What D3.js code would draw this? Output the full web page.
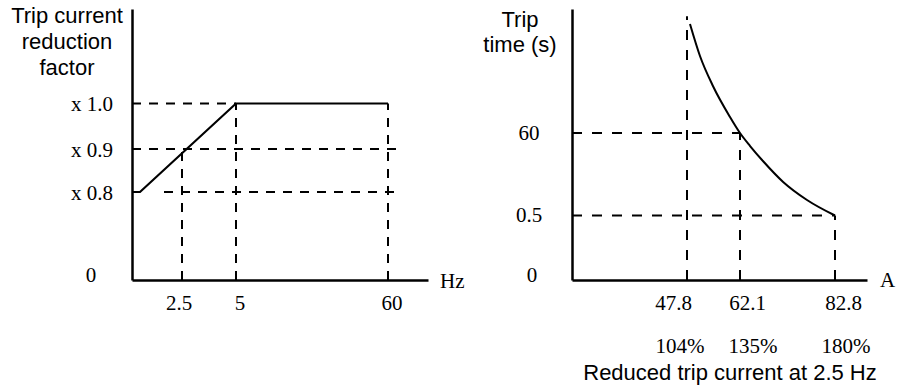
<!DOCTYPE html>
<html>
<head>
<meta charset="utf-8">
<script src="https://cdn.jsdelivr.net/npm/d3@7"></script>
<style>
  html, body { margin: 0; padding: 0; background: #fff; }
  svg { display: block; }
  .serif { font-family: "Liberation Serif", "Times New Roman", serif; font-size: 21px; fill: #000; }
  .sans { font-family: "Liberation Sans", Arial, Helvetica, sans-serif; font-size: 22px; fill: #000; }
</style>
</head>
<body>
<svg id="chart" width="906" height="388"></svg>
<script>
// ---------- Data: left chart (trip current reduction factor vs frequency) ----------
const freqTicks = [2.5, 5, 60];
const freqTickLabels = ["2.5", "5", "60"];
const factorLevels = [1.0, 0.9, 0.8];
const factorLabels = ["x 1.0", "x 0.9", "x 0.8"];
const factorCurveFreq = [0, 0.4, 5, 60];
const factorCurveValue = [0.8, 0.8, 1.0, 1.0];
const leftTitle = ["Trip current", "reduction", "factor"];
const leftUnit = "Hz";

// ---------- Data: right chart (trip time vs current) ----------
const currentTicks = [47.8, 62.1, 82.8];
const currentLabels = ["47.8", "62.1", "82.8"];
const percentLabels = ["104%", "135%", "180%"];
const timeLevels = [60, 0.5];
const timeLabels = ["60", "0.5"];
const tripCurveCurrent = [48.6, 51.3, 54.8, 59.4, 62.1, 64.3, 67.1, 71.5, 76.7, 82.8];
const tripCurveTime = [165.5, 134.5, 105.5, 75.5, 60, 50.6, 39.8, 24.7, 11.7, 0.5];
const rightTitle = ["Trip", "time (s)"];
const rightUnit = "A";
const rightCaption = "Reduced trip current at 2.5 Hz";

// Guide (dashed) line extents, in data units
const leftGuidesH = [ {v: 1.0, from: 0, to: 5}, {v: 0.9, from: 0, to: 62}, {v: 0.8, from: 1.6, to: 63} ];
const leftGuidesV = [ {v: 2.5, from: 0, to: 0.9}, {v: 5, from: 0, to: 1.0}, {v: 60, from: 0, to: 1.0} ];
const rightGuidesH = [ {v: 60, from: 40, to: 62.1}, {v: 0.5, from: 40, to: 82.8} ];
const rightGuidesV = [ {v: 47.8, from: 0, to: 173}, {v: 62.1, from: 0, to: 60}, {v: 82.8, from: 0, to: 0.5} ];

// ---------- Layout ----------
const svg = d3.select("#chart");

// Piecewise (schematic) scales
const xL = d3.scaleLinear().domain([0, 2.5, 5, 60, 70]).range([132, 182, 236, 388, 428]);
const yL = d3.scaleLinear().domain([0, 0.8, 0.9, 1.0, 1.4]).range([280, 192, 149, 103.5, 9]);
const xR = d3.scaleLinear().domain([40, 47.8, 62.1, 82.8, 90]).range([572, 687, 740, 835, 867]);
const yR = d3.scaleLinear().domain([0, 0.5, 60, 180]).range([280, 215.5, 133, 9]);

function drawAxes(x, y) {
  const gx = svg.append("g").attr("transform", `translate(0,${y(0)})`)
    .call(d3.axisBottom(x).tickValues([]).tickSizeOuter(0));
  const gy = svg.append("g").attr("transform", `translate(${x(x.domain()[0])},0)`)
    .call(d3.axisLeft(y).tickValues([]).tickSizeOuter(0));
  [gx, gy].forEach(g => g.select(".domain").attr("stroke", "#000").attr("stroke-width", 2.5));
}

function drawGuides(x, y, hs, vs, dash) {
  const g = svg.append("g").attr("fill", "none").attr("stroke", "#000")
    .attr("stroke-width", 2).attr("stroke-dasharray", dash);
  g.selectAll("line.h").data(hs).enter().append("line").attr("class", "h")
    .attr("x1", d => x(d.from)).attr("x2", d => x(d.to))
    .attr("y1", d => y(d.v)).attr("y2", d => y(d.v));
  g.selectAll("line.v").data(vs).enter().append("line").attr("class", "v")
    .attr("x1", d => x(d.v)).attr("x2", d => x(d.v))
    .attr("y1", d => y(d.from)).attr("y2", d => y(d.to));
}

// ---------- Left chart ----------
drawGuides(xL, yL, leftGuidesH, leftGuidesV, "9,8");

const leftLine = d3.line().x(d => xL(d[0])).y(d => yL(d[1]));
svg.append("path")
  .datum(factorCurveFreq.map((f, i) => [f, factorCurveValue[i]]))
  .attr("d", leftLine).attr("fill", "none").attr("stroke", "#000")
  .attr("stroke-width", 2.2).attr("stroke-linejoin", "miter");

drawAxes(xL, yL);

svg.append("g").selectAll("text").data(factorLevels).enter().append("text")
  .attr("class", "serif").attr("text-anchor", "end")
  .attr("x", 113).attr("y", d => yL(d) + 7.5)
  .text((d, i) => factorLabels[i]);
svg.append("text").attr("class", "serif").attr("text-anchor", "middle")
  .attr("x", 91).attr("y", yL(0) + 2).text("0");

const freqDx = [-3, 4, 4];
svg.append("g").selectAll("text").data(freqTicks).enter().append("text")
  .attr("class", "serif").attr("text-anchor", "middle")
  .attr("x", (d, i) => xL(d) + freqDx[i]).attr("y", 310)
  .text((d, i) => freqTickLabels[i]);
svg.append("text").attr("class", "serif").attr("x", 440).attr("y", 288).text(leftUnit);

svg.append("g").selectAll("text").data(leftTitle).enter().append("text")
  .attr("class", "sans").attr("text-anchor", "middle")
  .attr("x", 67).attr("y", (d, i) => 22.5 + i * 26).text(d => d);

// ---------- Right chart ----------
drawGuides(xR, yR, rightGuidesH, rightGuidesV, "10,10");

const rightLine = d3.line().x(d => xR(d[0])).y(d => yR(d[1])).curve(d3.curveMonotoneX);
svg.append("path")
  .datum(tripCurveCurrent.map((c, i) => [c, tripCurveTime[i]]))
  .attr("d", rightLine).attr("fill", "none").attr("stroke", "#000").attr("stroke-width", 2);

drawAxes(xR, yR);

svg.append("g").selectAll("text").data(timeLevels).enter().append("text")
  .attr("class", "serif").attr("text-anchor", "middle")
  .attr("x", 529).attr("y", (d, i) => yR(d) + [7, 6.5][i])
  .text((d, i) => timeLabels[i]);
svg.append("text").attr("class", "serif").attr("text-anchor", "middle")
  .attr("x", 532).attr("y", yR(0) + 2).text("0");

const curDx = [-13.5, 7.5, 8.5];
svg.append("g").selectAll("text").data(currentTicks).enter().append("text")
  .attr("class", "serif").attr("text-anchor", "middle")
  .attr("x", (d, i) => xR(d) + curDx[i]).attr("y", 310)
  .text((d, i) => currentLabels[i]);
const pctDx = [-7, 13, 11];
svg.append("g").selectAll("text").data(currentTicks).enter().append("text")
  .attr("class", "serif").attr("text-anchor", "middle")
  .attr("x", (d, i) => xR(d) + pctDx[i]).attr("y", 353)
  .text((d, i) => percentLabels[i]);
svg.append("text").attr("class", "serif").attr("x", 880).attr("y", 287).text(rightUnit);

svg.append("g").selectAll("text").data(rightTitle).enter().append("text")
  .attr("class", "sans").attr("text-anchor", "middle")
  .attr("x", 520).attr("y", (d, i) => 27 + i * 25).text(d => d);
svg.append("text").attr("class", "sans").attr("text-anchor", "middle")
  .attr("x", 730).attr("y", 380).text(rightCaption);
</script>
</body>
</html>
